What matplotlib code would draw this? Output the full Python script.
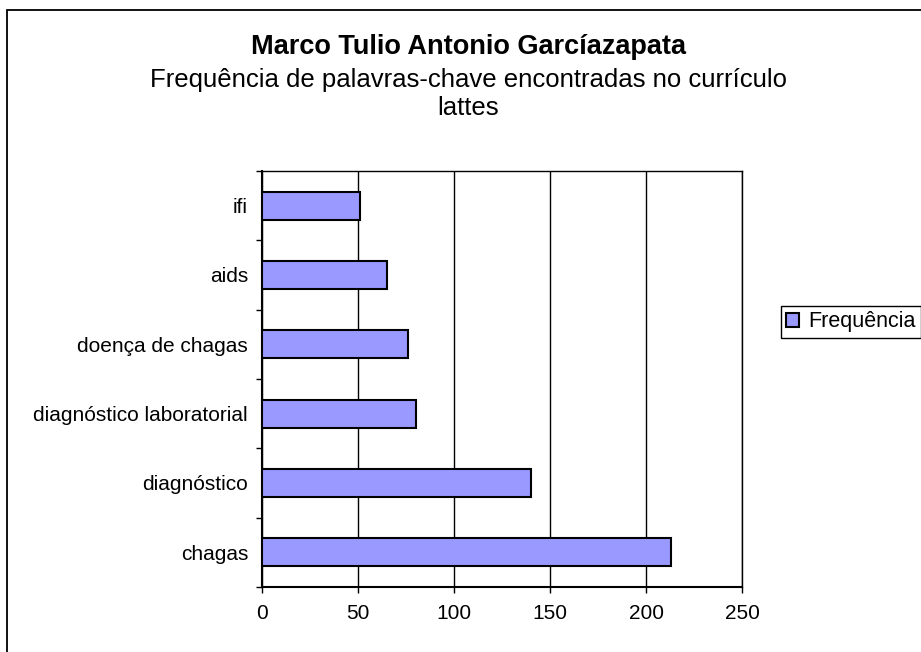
import numpy as np
import matplotlib
matplotlib.use('Agg')
import matplotlib.pyplot as plt
from matplotlib.patches import Rectangle

# Données
categorias = ['chagas', 'diagnóstico', 'diagnóstico laboratorial',
              'doença de chagas', 'aids', 'ifi']
frequencia = [213, 140, 80, 76, 65, 51]
xticks = [0, 50, 100, 150, 200, 250]

titulo = 'Marco Tulio Antonio Garcíazapata'
subtitulo = ['Frequência de palavras-chave encontradas no currículo', 'lattes']
legenda = 'Frequência'

plt.rcParams['font.family'] = ['Liberation Sans', 'DejaVu Sans']

W, H = 921, 652
fig = plt.figure(figsize=(W / 100, H / 100), dpi=100)
fig.patch.set_facecolor('white')

# cadre extérieur (coupé à droite et en bas)
fig.patches.append(Rectangle((7 / W, -0.05), 1.2, 1 - 10 / H + 0.05,
                             transform=fig.transFigure, fill=False,
                             edgecolor='black', linewidth=1.3))

ax = fig.add_axes([262 / W, 1 - 587 / H, (742 - 262) / W, (587 - 171) / H])

y = np.arange(len(categorias))
ax.barh(y, frequencia, height=0.4, color='#9999FF', edgecolor='black',
        linewidth=1.5, label=legenda, zorder=3)

ax.set_xlim(0, 250)
ax.set_ylim(-0.5, len(categorias) - 0.5)
ax.set_xticks(xticks)
ax.set_xticklabels([str(v) for v in xticks], fontsize=15)
ax.xaxis.grid(True, color='black', linewidth=1.0, zorder=0)

ax.set_yticks(y)
ax.set_yticklabels(categorias, fontsize=15)
ax.set_yticks(np.arange(-0.5, len(categorias)), minor=True)
ax.tick_params(axis='y', which='major', length=0, pad=10)
ax.tick_params(axis='y', which='minor', length=4.5, width=1, direction='out')
ax.tick_params(axis='x', length=4.5, width=1, direction='out', pad=8)

for s in ['left', 'bottom']:
    ax.spines[s].set_linewidth(1.5)
for s in ['top', 'right']:
    ax.spines[s].set_linewidth(1.0)

# Titres
fig.text(468 / W, 1 - 47 / H, titulo, ha='center', va='center',
         fontsize=19.5, fontweight='bold')
fig.text(468 / W, 1 - 80 / H, subtitulo[0], ha='center', va='center',
         fontsize=18.5)
fig.text(468 / W, 1 - 108 / H, subtitulo[1], ha='center', va='center',
         fontsize=18.5)

leg = fig.legend(loc='center left', bbox_to_anchor=(781 / W, 1 - 322 / H),
                 fontsize=15.5, frameon=True, fancybox=False, framealpha=1,
                 edgecolor='black', handlelength=0.6, handleheight=0.6,
                 handletextpad=0.4, borderpad=0.25, borderaxespad=0)
leg.get_frame().set_linewidth(1.0)

plt.savefig('out.png', dpi=100)
plt.close()
